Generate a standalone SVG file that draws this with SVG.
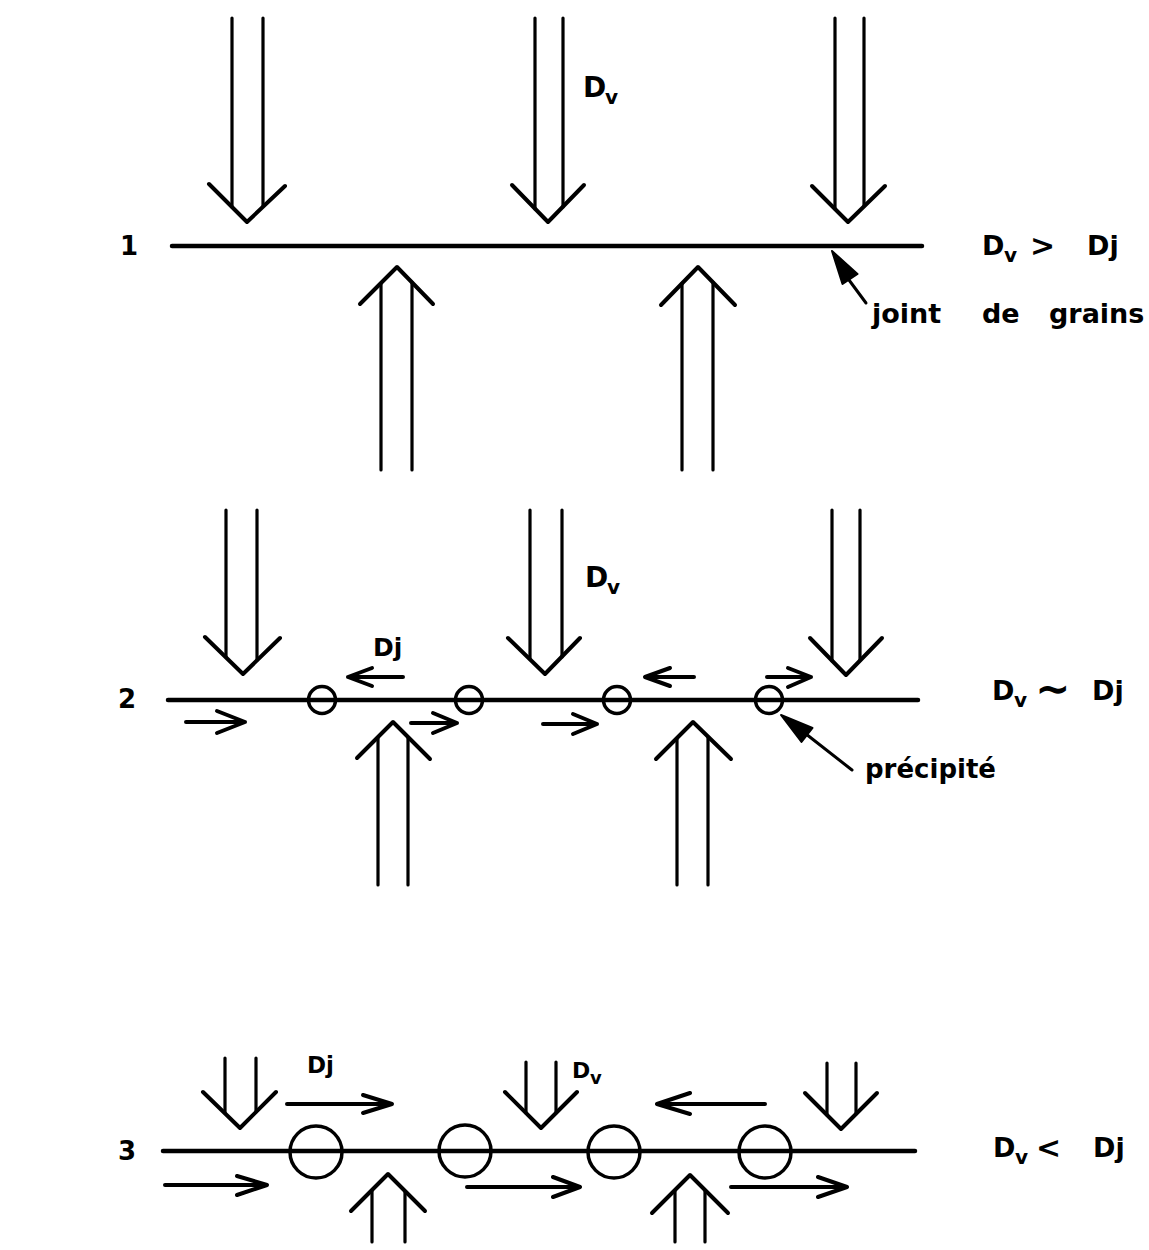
<svg xmlns="http://www.w3.org/2000/svg" width="1149" height="1250" viewBox="0 0 1149 1250">
<style>
.ln{stroke:#000;fill:none;stroke-linecap:round;stroke-linejoin:round}
.sh{stroke-width:3.2}
.wg{stroke-width:4}
.gb{stroke-width:4.5}
.ci{stroke-width:3.5}
.sm{stroke-width:4}
.t{font-family:"DejaVu Sans","Liberation Sans",Arial,sans-serif;font-weight:bold;fill:#000}
</style>
<rect width="1149" height="1250" fill="#fff"/>

<!-- Panel numbers -->
<g id="labels-num">
<text class="t" x="120" y="255" font-size="26">1</text>
<text class="t" x="118" y="708" font-size="26">2</text>
<text class="t" x="118" y="1160" font-size="26">3</text>
</g>

<!-- Panel 1 -->
<g id="p1-boundary"><path class="ln gb" d="M172 246 H922"/></g>
<g id="p1-arrows">
<path class="ln sh" d="M232 18 V207 M263 18 V206"/><polyline class="ln wg" points="209,184 247,222 285,186"/>
<path class="ln sh" d="M535 18 V209 M563 18 V207"/><polyline class="ln wg" points="512,185 548,222 584,185"/>
<path class="ln sh" d="M835 18 V209 M864 18 V206"/><polyline class="ln wg" points="812,186 848,222 885,186"/>
<path class="ln sh" d="M381 470 V283 M412 470 V282"/><polyline class="ln wg" points="360,304 397,267 433,304"/>
<path class="ln sh" d="M682 470 V283 M713 470 V282"/><polyline class="ln wg" points="661,305 698,267 735,305"/>
</g>
<g id="p1-text">
<text class="t" x="583" y="97" font-size="28">D</text>
<text class="t" x="605" y="104" font-size="20">v</text>
<text class="t" x="982" y="255" font-size="27">D</text>
<text class="t" x="1004" y="262" font-size="20">v</text>
<text class="t" x="1030" y="256" font-size="30">&gt;</text>
<text class="t" x="1087" y="255" font-size="27">Dj</text>
</g>
<g id="p1-joint">
<path class="ln" stroke-width="3" d="M849 280 L866 303"/>
<polygon points="832,251 857.5,274 842.5,284" fill="#000" stroke="#000" stroke-width="2" stroke-linejoin="round"/>
<text class="t" x="872" y="323" font-size="27">joint</text>
<text class="t" x="982" y="323" font-size="27">de</text>
<text class="t" x="1049" y="323" font-size="27">grains</text>
</g>

<!-- Panel 2 -->
<g id="p2-boundary"><path class="ln gb" d="M168 700 H918"/></g>
<g id="p2-precipitates">
<circle class="ln ci" cx="322" cy="700" r="13.5"/>
<circle class="ln ci" cx="469" cy="700" r="13.5"/>
<circle class="ln ci" cx="617" cy="700" r="13.5"/>
<circle class="ln ci" cx="769" cy="700" r="13.5"/>
</g>
<g id="p2-arrows">
<path class="ln sh" d="M226 510 V657 M257 510 V660"/><polyline class="ln wg" points="205,637 243,674 280,638"/>
<path class="ln sh" d="M530 510 V659 M562 510 V657"/><polyline class="ln wg" points="508,638 545,674 580,638"/>
<path class="ln sh" d="M832 510 V661 M860 510 V660"/><polyline class="ln wg" points="810,638 846,675 882,638"/>
<path class="ln sh" d="M378 885 V737 M408 885 V737"/><polyline class="ln wg" points="357,758 393,722 430,759"/>
<path class="ln sh" d="M677 885 V738 M708 885 V737"/><polyline class="ln wg" points="656,759 693,722 731,759"/>
</g>
<g id="p2-flux">
<path class="ln sm" d="M186 722 H245 M217 711 L245 722 L217 733"/>
<path class="ln sm" d="M411 723 H457 M433 713 L457 723 L433 733"/>
<path class="ln sm" d="M543 724 H597 M573 714 L597 724 L573 734"/>
<path class="ln sm" d="M403 677 H348 M372 668 L348 677 L372 686"/>
<path class="ln sm" d="M694 677 H645 M670 668 L645 677 L670 686"/>
<path class="ln sm" d="M767 677 H811 M788 668 L811 677 L788 687"/>
</g>
<g id="p2-text">
<text class="t" x="585" y="587" font-size="28">D</text>
<text class="t" x="607" y="594" font-size="20">v</text>
<text class="t" x="373" y="656" font-size="25">Dj</text>
<text class="t" x="992" y="700" font-size="27">D</text>
<text class="t" x="1014" y="707" font-size="20">v</text>
<text class="t" x="1035" y="703" font-size="42">∼</text>
<text class="t" x="1092" y="700" font-size="27">Dj</text>
</g>
<g id="p2-precipite">
<path class="ln" stroke-width="3" d="M806 734 L852 770"/>
<polygon points="781,715 812.5,728 801.5,742" fill="#000" stroke="#000" stroke-width="2" stroke-linejoin="round"/>
<text class="t" x="865" y="778" font-size="26">précipité</text>
</g>

<!-- Panel 3 -->
<g id="p3-boundary"><path class="ln gb" d="M163 1151 H915"/></g>
<g id="p3-precipitates">
<circle class="ln ci" cx="316" cy="1152" r="26"/>
<circle class="ln ci" cx="465" cy="1151" r="26"/>
<circle class="ln ci" cx="614" cy="1152" r="26"/>
<circle class="ln ci" cx="765" cy="1152" r="26"/>
</g>
<g id="p3-arrows">
<path class="ln sh" d="M225 1058 V1113 M256 1058 V1112"/><polyline class="ln wg" points="203,1092 240,1128 276,1092"/>
<path class="ln sh" d="M526 1062 V1113 M556 1062 V1113"/><polyline class="ln wg" points="505,1092 541,1128 577,1092"/>
<path class="ln sh" d="M827 1063 V1115 M856 1063 V1114"/><polyline class="ln wg" points="805,1093 841,1129 877,1093"/>
<path class="ln sh" d="M372 1242 V1190 M405 1242 V1191"/><polyline class="ln wg" points="351,1211 388,1174 425,1211"/>
<path class="ln sh" d="M675 1242 V1190 M705 1242 V1190"/><polyline class="ln wg" points="652,1213 690,1175 728,1213"/>
</g>
<g id="p3-flux">
<path class="ln sm" d="M287 1104 H392 M363 1095 L392 1104 L363 1113"/>
<path class="ln sm" d="M765 1104 H657 M690 1093 L657 1104 L690 1114"/>
<path class="ln sm" d="M165 1185 H267 M237 1176 L267 1185 L237 1195"/>
<path class="ln sm" d="M467 1187 H580 M553 1177 L580 1187 L553 1197"/>
<path class="ln sm" d="M731 1187 H847 M818 1177 L847 1187 L818 1197"/>
</g>
<g id="p3-text">
<text class="t" x="307" y="1073" font-size="23">Dj</text>
<text class="t" x="572" y="1078" font-size="22">D</text>
<text class="t" x="590" y="1084" font-size="18">v</text>
<text class="t" x="993" y="1157" font-size="27">D</text>
<text class="t" x="1015" y="1164" font-size="20">v</text>
<text class="t" x="1036" y="1158" font-size="30">&lt;</text>
<text class="t" x="1093" y="1157" font-size="27">Dj</text>
</g>
</svg>
